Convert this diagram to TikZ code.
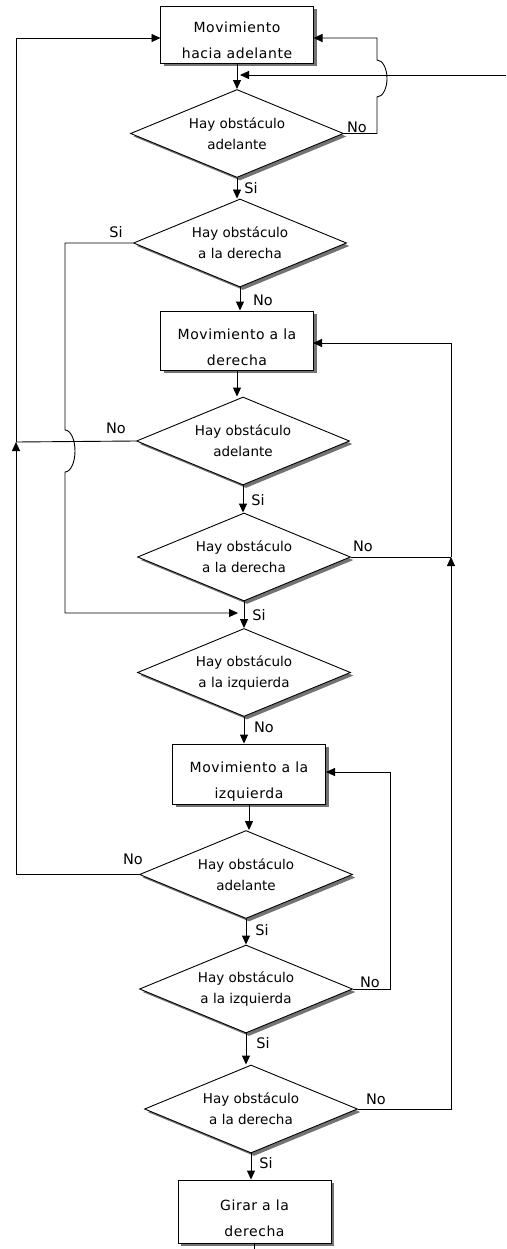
\documentclass[tikz,border=0pt]{standalone}
\usepackage{fontspec}
\newfontfamily\boxfont[LetterSpace=4]{DejaVu Sans}
\newfontfamily\flowfont{DejaVu Sans}
\usetikzlibrary{shapes.geometric,arrows.meta,shadows}

\tikzset{
  link/.style={draw, line width=0.9pt},
  arr/.style={link, -{Triangle[length=9pt,width=8pt]}},
  shade3/.style={drop shadow={shadow xshift=3pt, shadow yshift=-3pt, fill=black!55, opacity=1}},
  procbox/.style={rectangle, draw, line width=0.9pt, fill=white, inner sep=0pt,
    align=center, font=\boxfont\fontsize{14}{26}\selectfont, shade3,
    text height=52pt, text depth=3pt, minimum width=153pt},
  decision/.style={diamond, draw, line width=0.9pt, fill=white, aspect=2.4,
    inner sep=0pt, minimum width=213pt, minimum height=88pt, align=center,
    font=\flowfont\fontsize{13.5}{21}\selectfont, shade3},
  tag/.style={font=\flowfont\fontsize{14.5}{16}\selectfont, inner sep=0pt}
}

\begin{document}
\begin{tikzpicture}[x=1pt, y=-1pt]
\useasboundingbox (0,0) rectangle (506,1249);

% process boxes
\node[procbox, minimum height=57pt] (b1) at (237,34.5) {Movimiento\\hacia adelante};
\node[procbox, minimum height=59pt] (b2) at (237,340.5) {Movimiento a la\\derecha};
\node[procbox, minimum height=60pt] (b3) at (249,774) {Movimiento a la\\izquierda};
\node[procbox, minimum height=63pt] (b4) at (254.5,1211.5) {Girar a la\\derecha};

% decisions
\node[decision] (d1) at (237,133.5) {Hay obstáculo\\adelante};
\node[decision] (d2) at (240,243) {Hay obstáculo\\a la derecha};
\node[decision] (d3) at (243,441) {Hay obstáculo\\adelante};
\node[decision] (d4) at (244,557) {Hay obstáculo\\a la derecha};
\node[decision] (d5) at (244,672.5) {Hay obstáculo\\a la izquierda};
\node[decision] (d6) at (246,874.5) {Hay obstáculo\\adelante};
\node[decision] (d7) at (246,989) {Hay obstáculo\\a la izquierda};
\node[decision] (d8) at (251,1109) {Hay obstáculo\\a la derecha};

% branch labels
\node[tag] (n1) at (357,127) {No};
\node[tag] (s1) at (251,188) {Si};
\node[tag] (s2) at (116,232) {Si};
\node[tag] (n2) at (263,300) {No};
\node[tag] (n3) at (116,428) {No};
\node[tag] (s3) at (258,500) {Si};
\node[tag] (n4) at (363,546) {No};
\node[tag] (s4) at (259,615) {Si};
\node[tag] (n5) at (264,727) {No};
\node[tag] (n6) at (133,859) {No};
\node[tag] (s6) at (262,930) {Si};
\node[tag] (n7) at (370,982) {No};
\node[tag] (s7) at (263,1043) {Si};
\node[tag] (n8) at (376,1099) {No};
\node[tag] (s8) at (266,1163) {Si};

% loose ends and junctions
\coordinate (rin) at (506,75);
\coordinate (rinTip) at (240,75);
\coordinate (b1in) at (160.5,38);
\coordinate (b1back) at (313.5,38);
\coordinate (joinL) at (16,442);
\coordinate (joinR) at (451,557);
\coordinate (b2back) at (313,343);
\coordinate (b3back) at (326,772);
\coordinate (skipTip) at (238,613);
\coordinate (exit) at (254.5,1249);

% main vertical flow
\draw[arr] (b1.south) -- (b1.south |- d1.north);
\draw[arr] (d1.south) -- (d1.south |- d2.north);
\draw[arr] (d2.south) -- (d2.south |- b2.north);
\draw[arr] (b2.south) -- (b2.south |- d3.north);
\draw[arr] (d3.south) -- (d3.south |- d4.north);
\draw[arr] (d4.south) -- (d4.south |- d5.north);
\draw[arr] (d5.south) -- (d5.south |- b3.north);
\draw[arr] (b3.south) -- (b3.south |- d6.north);
\draw[arr] (d6.south) -- (d6.south |- d7.north);
\draw[arr] (d7.south) -- (d7.south |- d8.north);
\draw[arr] (d8.south) -- (d8.south |- b4.north);
\draw[link] (b4.south) -- (exit);

% entry from the right
\draw[arr] (rin) -- (rinTip);

% "No" of the first test: back to the forward move, hopping over the entry line
\draw[arr] (d1.east) -- (377,133.5) -- (377,97)
  arc[start angle=-90, end angle=90, x radius=10pt, y radius=18.5pt]
  -- (377,38) -- (b1back);

% "Si" of the second test: skip down, hopping over the left return line
\draw[arr] (d2.west) -- (65,243) -- (65,430)
  arc[start angle=90, end angle=-90, x radius=10pt, y radius=21pt]
  -- (65,613) -- (skipTip);

% left return line to the forward move
\draw[arr] (d6.west) -- (16,874.5) -- (joinL);
\draw[link] (d3.west) -- (joinL);
\draw[arr] (joinL) -- (16,38) -- (b1in);

% right return line to the move to the right
\draw[arr] (d8.east) -- (451,1109) -- (joinR);
\draw[link] (d4.east) -- (joinR);
\draw[arr] (joinR) -- (451,343) -- (b2back);

% return to the move to the left
\draw[arr] (d7.east) -- (390,989) -- (390,772) -- (b3back);
\end{tikzpicture}
\end{document}
